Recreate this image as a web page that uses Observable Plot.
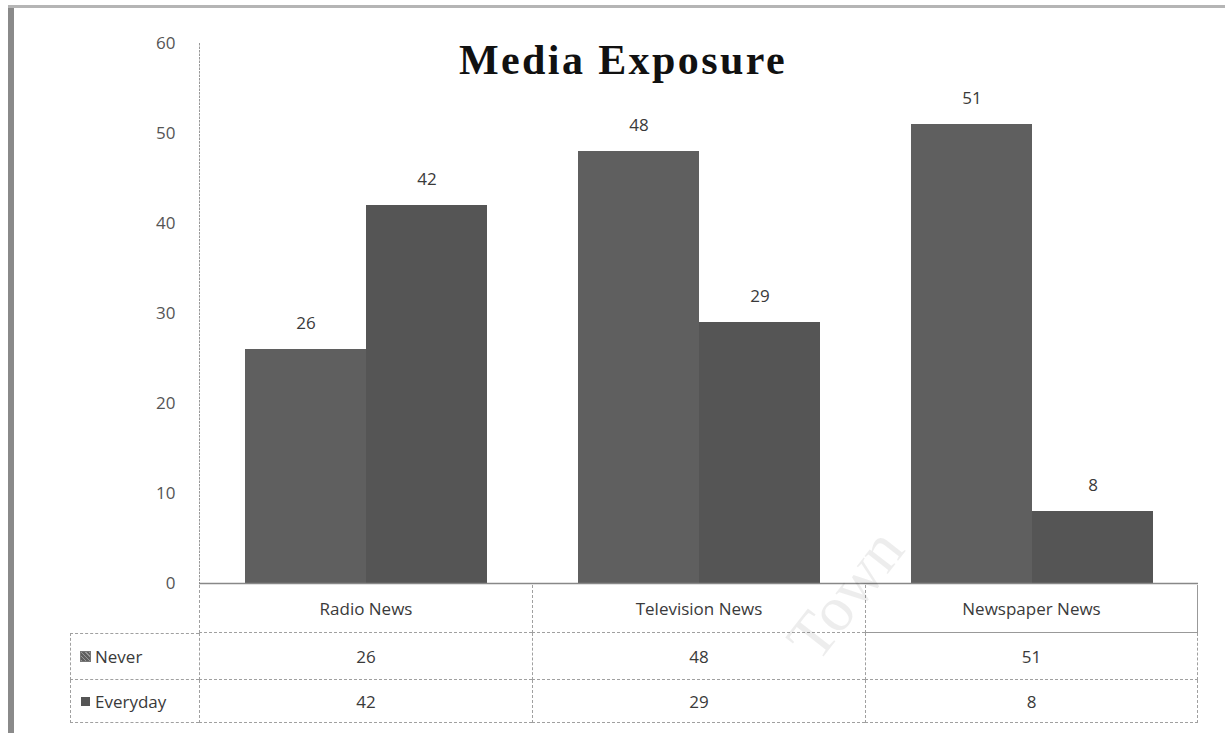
<!DOCTYPE html>
<html>
<head>
<meta charset="utf-8">
<script src="https://cdn.jsdelivr.net/npm/d3@7"></script>
<script src="https://cdn.jsdelivr.net/npm/@observablehq/plot@0.6"></script>
<style>
  html, body { margin: 0; padding: 0; background: #fff; }
  #wrap { position: relative; width: 1225px; height: 733px; overflow: hidden; background: #fff; }
  #wrap .lborder { position: absolute; left: 8px; top: 5px; width: 6px; height: 728px; background: #8a8a8a; }
  #wrap .tborder { position: absolute; left: 8px; top: 5px; width: 1217px; height: 3px; background: #b5b5b5; }
  #chart { position: absolute; left: 0; top: 0; }
  .cell { position: absolute; box-sizing: border-box; display: flex; align-items: center; justify-content: center;
          font-family: "Open Sans", "DejaVu Sans", sans-serif; font-size: 17px; color: #3a3a3a; }
  .leg { justify-content: flex-start; padding-left: 10px; }
  .sw { display: inline-block; width: 9px; height: 9px; margin-right: 5px; }
  .wm { position: absolute; font-family: "Liberation Serif", serif; font-size: 64px; color: rgba(0,0,0,0.07);
        transform: rotate(-52deg); transform-origin: left bottom; white-space: nowrap; }
</style>
</head>
<body>
<div id="wrap">
  <div class="lborder"></div>
  <div class="tborder"></div>
  <div id="chart"></div>
</div>
<script>
const categories = ["Radio News", "Television News", "Newspaper News"];
const seriesNames = ["Never", "Everyday"];
const neverValues = [26, 48, 51];
const everydayValues = [42, 29, 8];
const yTicks = [0, 10, 20, 30, 40, 50, 60];
const titleText = "Media Exposure";
const seriesColors = ["#5f5f5f", "#555555"];

const rows = [];
categories.forEach((c, i) => {
  rows.push({category: c, series: "Never", value: neverValues[i]});
  rows.push({category: c, series: "Everyday", value: everydayValues[i]});
});

const W = 1225, H = 600;
const mL = 198, mR = 27, mT = 43, mB = 17;

const plot = Plot.plot({
  width: W,
  height: H,
  marginLeft: mL,
  marginRight: mR,
  marginTop: mT,
  marginBottom: mB,
  style: {background: "transparent", fontFamily: "'Open Sans', 'DejaVu Sans', sans-serif", fontSize: "16px", color: "#444"},
  fx: {domain: categories, padding: 0, axis: null},
  x: {domain: seriesNames, padding: 0, paddingOuter: 0.37, axis: null},
  y: {domain: [0, 60], ticks: yTicks, tickSize: 0, tickPadding: 24, label: null},
  color: {domain: seriesNames, range: seriesColors},
  marks: [
    Plot.axisY({ticks: yTicks, tickSize: 0, tickPadding: 24, label: null, fontSize: 17, fill: "#555", facetAnchor: "left"}),
    Plot.frame({anchor: "left", stroke: "#999", strokeDasharray: "1.5,2", facetAnchor: "left"}),
    Plot.barY(rows, {fx: "category", x: "series", y: "value", fill: "series", inset: 0}),
    Plot.text(rows, {fx: "category", x: "series", y: "value", text: d => String(d.value), dy: -26,
                     fontSize: 17, fill: "#3a3a3a"}),
    Plot.ruleY([0], {stroke: "#888", strokeWidth: 1.3}),
    Plot.text([titleText], {frameAnchor: "top", dx: -76, dy: 1, fontSize: 42, fontWeight: "bold",
                            fontFamily: "'Liberation Serif', 'DejaVu Serif', serif", fill: "#111",
                            facet: "super"})
  ]
});
// widen the title's letter spacing like the scanned original
plot.querySelectorAll("text").forEach(t => {
  if (t.textContent === titleText) t.setAttribute("letter-spacing", "2.4");
});
document.getElementById("chart").appendChild(plot);

// Data table below the plot, aligned with the fx band scale
const fx = plot.scale("fx");
const wrap = document.getElementById("wrap");
const rowTops = [585, 633, 680];
const rowHeights = [48, 47, 43];
const legLeft = 70;
function cell(x, y, w, h, html, cls, style) {
  const d = document.createElement("div");
  d.className = "cell " + (cls || "");
  d.style.left = x + "px"; d.style.top = y + "px";
  d.style.width = w + "px"; d.style.height = h + "px";
  Object.assign(d.style, style || {});
  d.innerHTML = html;
  wrap.appendChild(d);
  return d;
}
const bw = fx.bandwidth !== undefined ? fx.bandwidth : (fx.range[1] - fx.range[0]) / categories.length;
function colX(c) { return fx.apply(c); }
const dashed = "1px dashed #a0a0a0";
// header row
categories.forEach((c, i) => {
  cell(colX(c), rowTops[0], bw, rowHeights[0], c, "", {
    borderLeft: dashed,
    borderRight: i === categories.length - 1 ? "1px solid #999" : "none",
    borderBottom: i === categories.length - 1 ? "1px solid #999" : dashed
  });
});
// series rows
const seriesValues = [neverValues, everydayValues];
seriesNames.forEach((s, r) => {
  const top = rowTops[r + 1], h = rowHeights[r + 1];
  const sw = r === 0
    ? `<span class="sw" style="background:${seriesColors[0]};outline:1px solid #777;background-image:repeating-linear-gradient(45deg,#999 0 1px,transparent 1px 3px)"></span>`
    : `<span class="sw" style="background:${seriesColors[1]}"></span>`;
  cell(legLeft, top, colX(categories[0]) - legLeft, h, sw + s, "leg", {
    borderLeft: dashed, borderBottom: dashed, borderTop: r === 0 ? dashed : "none"
  });
  categories.forEach((c, i) => {
    cell(colX(c), top, bw, h, String(seriesValues[r][i]), "", {
      borderLeft: dashed,
      borderRight: i === categories.length - 1 ? dashed : "none",
      borderBottom: dashed
    });
  });
});

// faint scan watermark
const wm = document.createElement("div");
wm.className = "wm";
wm.textContent = "Town";
wm.style.left = "830px";
wm.style.top = "600px";
wrap.appendChild(wm);
</script>
</body>
</html>
